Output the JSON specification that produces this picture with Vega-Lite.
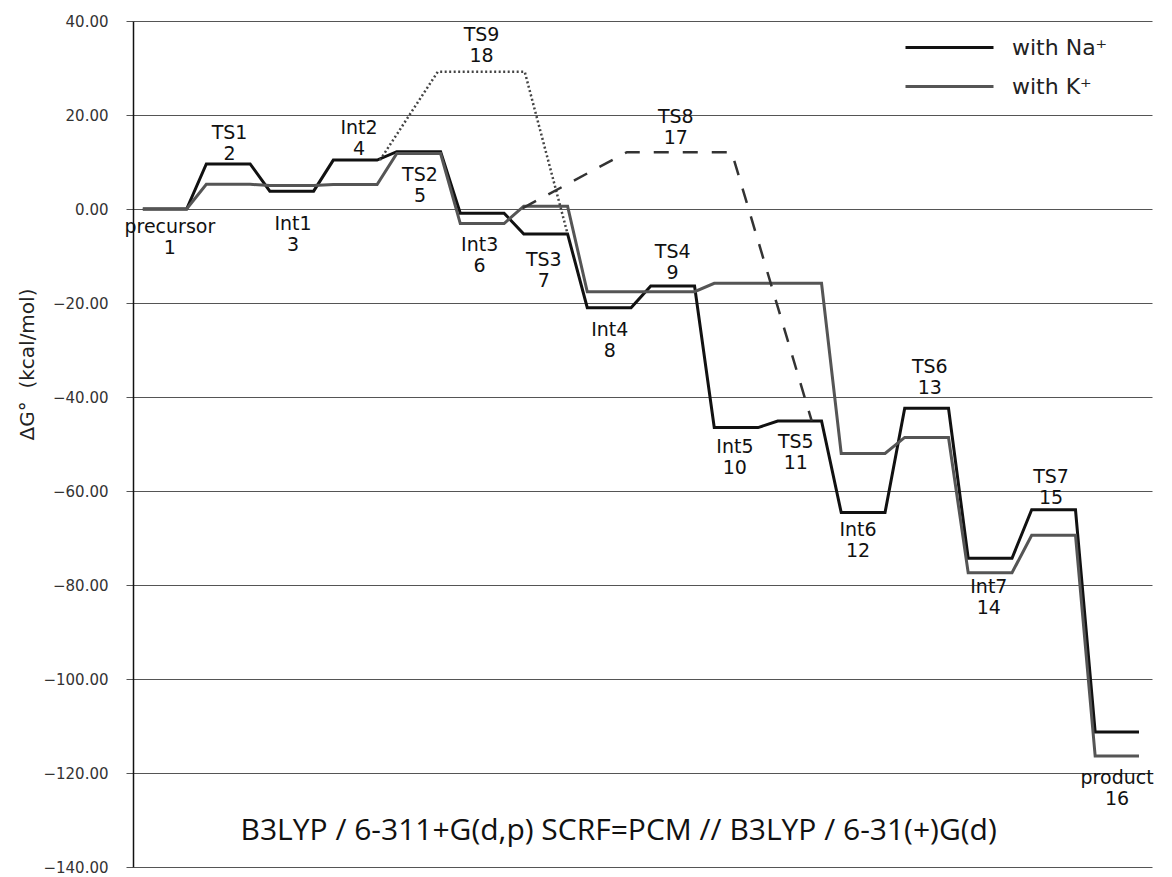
{
  "$schema": "https://vega.github.io/schema/vega-lite/v6.json",
  "width": 1019,
  "height": 846,
  "autosize": "none",
  "padding": {"left": 133, "top": 21, "right": 20, "bottom": 10},
  "background": "white",
  "config": {
    "view": {"stroke": null},
    "text": {"font": "DejaVu Sans", "color": "#111"}
  },
  "datasets": {
    "paths": [
      {"s": "with Na⁺", "x": 0.655, "y": 0}, {"s": "with Na⁺", "x": 1.345, "y": 0},
      {"s": "with Na⁺", "x": 1.655, "y": 9.6}, {"s": "with Na⁺", "x": 2.345, "y": 9.6},
      {"s": "with Na⁺", "x": 2.655, "y": 3.8}, {"s": "with Na⁺", "x": 3.345, "y": 3.8},
      {"s": "with Na⁺", "x": 3.655, "y": 10.4}, {"s": "with Na⁺", "x": 4.345, "y": 10.4},
      {"s": "with Na⁺", "x": 4.655, "y": 12.2}, {"s": "with Na⁺", "x": 5.345, "y": 12.2},
      {"s": "with Na⁺", "x": 5.655, "y": -0.9}, {"s": "with Na⁺", "x": 6.345, "y": -0.9},
      {"s": "with Na⁺", "x": 6.655, "y": -5.3}, {"s": "with Na⁺", "x": 7.345, "y": -5.3},
      {"s": "with Na⁺", "x": 7.655, "y": -21.0}, {"s": "with Na⁺", "x": 8.345, "y": -21.0},
      {"s": "with Na⁺", "x": 8.655, "y": -16.4}, {"s": "with Na⁺", "x": 9.345, "y": -16.4},
      {"s": "with Na⁺", "x": 9.655, "y": -46.5}, {"s": "with Na⁺", "x": 10.345, "y": -46.5},
      {"s": "with Na⁺", "x": 10.655, "y": -45.1}, {"s": "with Na⁺", "x": 11.345, "y": -45.1},
      {"s": "with Na⁺", "x": 11.655, "y": -64.6}, {"s": "with Na⁺", "x": 12.345, "y": -64.6},
      {"s": "with Na⁺", "x": 12.655, "y": -42.4}, {"s": "with Na⁺", "x": 13.345, "y": -42.4},
      {"s": "with Na⁺", "x": 13.655, "y": -74.3}, {"s": "with Na⁺", "x": 14.345, "y": -74.3},
      {"s": "with Na⁺", "x": 14.655, "y": -64.0}, {"s": "with Na⁺", "x": 15.345, "y": -64.0},
      {"s": "with Na⁺", "x": 15.655, "y": -111.3}, {"s": "with Na⁺", "x": 16.345, "y": -111.3},
      {"s": "with K⁺", "x": 0.655, "y": 0}, {"s": "with K⁺", "x": 1.345, "y": 0},
      {"s": "with K⁺", "x": 1.655, "y": 5.25}, {"s": "with K⁺", "x": 2.345, "y": 5.25},
      {"s": "with K⁺", "x": 2.655, "y": 5.0}, {"s": "with K⁺", "x": 3.345, "y": 5.0},
      {"s": "with K⁺", "x": 3.655, "y": 5.2}, {"s": "with K⁺", "x": 4.345, "y": 5.2},
      {"s": "with K⁺", "x": 4.655, "y": 11.8}, {"s": "with K⁺", "x": 5.345, "y": 11.8},
      {"s": "with K⁺", "x": 5.655, "y": -3.1}, {"s": "with K⁺", "x": 6.345, "y": -3.1},
      {"s": "with K⁺", "x": 6.655, "y": 0.6}, {"s": "with K⁺", "x": 7.345, "y": 0.6},
      {"s": "with K⁺", "x": 7.655, "y": -17.6}, {"s": "with K⁺", "x": 8.345, "y": -17.6},
      {"s": "with K⁺", "x": 8.655, "y": -17.6}, {"s": "with K⁺", "x": 9.345, "y": -17.6},
      {"s": "with K⁺", "x": 9.655, "y": -15.8}, {"s": "with K⁺", "x": 10.345, "y": -15.8},
      {"s": "with K⁺", "x": 10.655, "y": -15.8}, {"s": "with K⁺", "x": 11.345, "y": -15.8},
      {"s": "with K⁺", "x": 11.655, "y": -52.0}, {"s": "with K⁺", "x": 12.345, "y": -52.0},
      {"s": "with K⁺", "x": 12.655, "y": -48.6}, {"s": "with K⁺", "x": 13.345, "y": -48.6},
      {"s": "with K⁺", "x": 13.655, "y": -77.4}, {"s": "with K⁺", "x": 14.345, "y": -77.4},
      {"s": "with K⁺", "x": 14.655, "y": -69.4}, {"s": "with K⁺", "x": 15.345, "y": -69.4},
      {"s": "with K⁺", "x": 15.655, "y": -116.4}, {"s": "with K⁺", "x": 16.345, "y": -116.4}
    ],
    "alt": [
      {"p": "TS9", "x": 4.39, "y": 10.4}, {"p": "TS9", "x": 5.3, "y": 29.2},
      {"p": "TS9", "x": 6.67, "y": 29.2}, {"p": "TS9", "x": 7.345, "y": -5.3},
      {"p": "TS8", "x": 6.64, "y": 0.2}, {"p": "TS8", "x": 8.28, "y": 12.1},
      {"p": "TS8", "x": 9.93, "y": 12.1}, {"p": "TS8", "x": 11.19, "y": -45.1}
    ],
    "labels": [
      {"t": ["precursor", "1"], "x": 1.08, "y": -3.8},
      {"t": ["TS1", "2"], "x": 2.02, "y": 16.2},
      {"t": ["Int1", "3"], "x": 3.02, "y": -3.2},
      {"t": ["Int2", "4"], "x": 4.06, "y": 17.2},
      {"t": ["TS2", "5"], "x": 5.02, "y": 7.2},
      {"t": ["Int3", "6"], "x": 5.96, "y": -7.7},
      {"t": ["TS3", "7"], "x": 6.97, "y": -10.9},
      {"t": ["Int4", "8"], "x": 8.01, "y": -25.7},
      {"t": ["TS4", "9"], "x": 9.0, "y": -9.1},
      {"t": ["Int5", "10"], "x": 9.98, "y": -50.6},
      {"t": ["TS5", "11"], "x": 10.94, "y": -49.6},
      {"t": ["Int6", "12"], "x": 11.92, "y": -68.3},
      {"t": ["TS6", "13"], "x": 13.05, "y": -33.6},
      {"t": ["Int7", "14"], "x": 13.98, "y": -80.4},
      {"t": ["TS7", "15"], "x": 14.96, "y": -57.0},
      {"t": ["product", "16"], "x": 16.0, "y": -121.1},
      {"t": ["TS8", "17"], "x": 9.05, "y": 19.6},
      {"t": ["TS9", "18"], "x": 5.99, "y": 37.0}
    ],
    "note": [
      {"t": "B3LYP / 6-311+G(d,p) SCRF=PCM // B3LYP / 6-31(+)G(d)", "x": 8.15, "y": -132.4}
    ]
  },
  "layer": [
    {
      "data": {"name": "paths"},
      "mark": {"type": "line", "strokeWidth": 3, "strokeJoin": "miter"},
      "encoding": {
        "x": {"field": "x", "type": "quantitative", "scale": {"domain": [0.5, 16.55], "nice": false, "zero": false}, "axis": null},
        "y": {
          "field": "y", "type": "quantitative",
          "scale": {"domain": [-140, 40], "nice": false, "zero": false},
          "title": "ΔG°\u00a0\u00a0(kcal/mol)",
          "axis": {
            "values": [-140, -120, -100, -80, -60, -40, -20, 0, 20, 40],
            "format": ".2f",
            "grid": true, "gridColor": "#555", "gridWidth": 1,
            "domainColor": "#111", "domainWidth": 1.5,
            "tickColor": "#555", "tickSize": 7, "tickWidth": 1,
            "labelFont": "DejaVu Sans", "labelFontSize": 15, "labelColor": "#333", "labelPadding": 18,
            "titleFont": "DejaVu Sans", "titleFontSize": 20, "titleFontWeight": "normal", "titleColor": "#222",
            "titleAngle": -90, "titleAlign": "center", "titleBaseline": "middle",
            "titleX": -106, "titleY": 343
          }
        },
        "color": {
          "field": "s", "type": "nominal",
          "scale": {"domain": ["with Na⁺", "with K⁺"], "range": ["#111111", "#555555"]},
          "legend": {
            "title": null, "orient": "none", "legendX": 804, "legendY": 14,
            "symbolType": "M-4,0H4", "symbolSize": 484, "symbolStrokeWidth": 3,
            "labelFont": "DejaVu Sans", "labelFontSize": 22, "labelColor": "#222", "labelOffset": 50,
            "rowPadding": 15
          }
        }
      }
    },
    {
      "data": {"name": "alt"},
      "transform": [{"filter": "datum.p === 'TS9'"}],
      "mark": {"type": "line", "strokeWidth": 2.5, "strokeDash": [2, 2.5], "color": "#444"},
      "encoding": {
        "x": {"field": "x", "type": "quantitative"},
        "y": {"field": "y", "type": "quantitative"}
      }
    },
    {
      "data": {"name": "alt"},
      "transform": [{"filter": "datum.p === 'TS8'"}],
      "mark": {"type": "line", "strokeWidth": 2.5, "strokeDash": [15, 14], "color": "#333"},
      "encoding": {
        "x": {"field": "x", "type": "quantitative"},
        "y": {"field": "y", "type": "quantitative"}
      }
    },
    {
      "data": {"name": "labels"},
      "mark": {"type": "text", "fontSize": 19, "lineHeight": 21, "align": "center", "baseline": "middle"},
      "encoding": {
        "x": {"field": "x", "type": "quantitative"},
        "y": {"field": "y", "type": "quantitative"},
        "text": {"field": "t"}
      }
    },
    {
      "data": {"name": "note"},
      "mark": {"type": "text", "font": "Open Sans", "fontSize": 30, "align": "center", "baseline": "middle"},
      "encoding": {
        "x": {"field": "x", "type": "quantitative"},
        "y": {"field": "y", "type": "quantitative"},
        "text": {"field": "t"}
      }
    }
  ]
}
